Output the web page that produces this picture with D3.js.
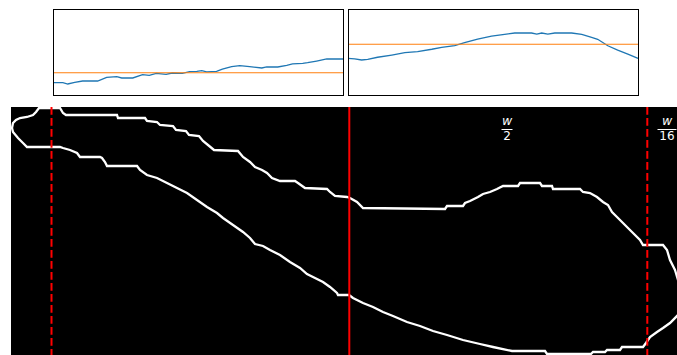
<!DOCTYPE html>
<html>
<head>
<meta charset="utf-8">
<script src="https://cdn.jsdelivr.net/npm/d3@7/dist/d3.min.js"></script>
<style>
  html, body { margin: 0; padding: 0; background: #fff; overflow: hidden; }
  svg { display: block; }
</style>
</head>
<body>
<svg id="fig" width="677" height="355"></svg>
<script>
// Profile along the left window (percent of panel height)
const leftPos = [0,3.4,5.1,7.5,10.2,15.4,18.5,22,23.7,27.5,30.9,33.2,35.6,39,41.1,44.6,47.1,49.6,51.3,53,56.4,58.4,61.6,64.4,67.8,72,73.7,77.5,80.6,82.6,86.1,87.8,90.9,94.4,100];
const leftProfile = [15.1,15.1,13.6,15.6,17.1,17.1,21.4,22.1,20.6,20.6,24.4,23.7,26,24.9,26.4,26,27.9,28.4,29.1,27.6,28.4,31,33.7,34.9,33.7,32.2,33.4,33.4,35.3,36.9,37.7,38.4,40.3,42.7,42.7];
const leftLevel = 26.7;

// Profile along the right window
const rightPos = [0,2.3,4.7,6.8,10.2,15.1,19.6,24,28.9,32.3,36.8,40.2,44.7,49.5,54,57.5,63.3,65.1,66.8,68.9,71.3,77.1,80.6,84,86.1,89.6,93,96.5,100];
const rightProfile = [43.5,42.7,41.5,42.3,44.7,47.3,50,51.2,54,56.3,58.1,61.6,65.9,69.4,71.4,72.9,72.9,71.7,72.9,71.7,72.9,72.9,71.4,67.9,65.6,58.1,53.1,48.4,43.5];
const rightLevel = 59.8;

// Closed outline of the mask, in image pixels [col, row]
const outline = [
  [1,21],[2,16],[5,13],[9,11],[16,10],[22,8],[25,5],[28,1],[49,1],[52,6],[55,8],
  [106,8],[107,11],[134,11],[136,14],[146,15],[149,18],[162,19],[165,23],[175,24],
  [178,28],[188,29],[192,34],[197,38],[203,43],[227,44],[232,50],[239,55],[244,60],
  [251,63],[256,66],[261,71],[269,74],[284,74],[287,76],[294,81],[316,82],[319,85],
  [324,89],[336,90],[339,91],[346,95],[352,101],[434,102],[436,99],[452,99],[454,96],
  [459,94],[467,90],[472,87],[479,85],[486,82],[492,79],[507,79],[509,76],[529,76],
  [531,79],[541,79],[542,82],[569,82],[572,85],[579,86],[586,90],[592,95],[597,98],
  [601,105],[606,110],[612,116],[621,125],[629,133],[632,138],[652,138],[656,143],
  [659,153],[664,163],[667,173],[672,190],[667,208],[659,216],[652,221],[646,225],
  [639,230],[635,236],[632,240],[611,240],[609,243],[596,243],[594,245],[582,245],
  [580,247],[536,247],[534,244],[501,244],[482,240],[469,237],[452,233],[436,228],
  [422,224],[409,219],[396,215],[382,209],[372,205],[362,200],[352,196],[342,191],
  [338,188],[327,188],[326,186],[319,180],[312,175],[304,171],[296,167],[289,161],
  [279,155],[269,148],[259,143],[252,139],[244,137],[239,131],[232,125],[222,118],
  [212,111],[206,106],[196,100],[186,93],[176,86],[166,81],[156,76],[146,71],[136,68],
  [129,63],[126,59],[96,59],[94,55],[91,51],[89,50],[69,50],[66,46],[59,43],[52,41],
  [49,40],[16,40],[12,36],[7,31],[2,25]
];

// Window boundaries (image columns) and their styles
const markerCols = [40.5, 338.3, 636.3];
const markerDashed = [true, false, true];

// Fraction labels placed along the top of the image
const labelCols = [496, 656];
const labelDenoms = ["2", "16"];

const svg = d3.select("#fig");

// ---------- image panel ----------
const xImg = d3.scaleLinear().domain([0, 700]).range([11, 711]);
const yImg = d3.scaleLinear().domain([0, 260]).range([107, 367]);

const imgG = svg.append("g");
imgG.append("rect")
  .attr("x", xImg(0)).attr("y", yImg(0))
  .attr("width", xImg(700) - xImg(0)).attr("height", yImg(260) - yImg(0))
  .attr("fill", "#000");

imgG.append("path")
  .datum(outline)
  .attr("d", d3.line().x(d => xImg(d[0])).y(d => yImg(d[1])).curve(d3.curveLinearClosed))
  .attr("fill", "none")
  .attr("stroke", "#fff")
  .attr("stroke-width", 2.3)
  .attr("stroke-linejoin", "miter");

imgG.selectAll("line.marker")
  .data(markerCols)
  .join("line")
  .attr("class", "marker")
  .attr("x1", d => xImg(d)).attr("x2", d => xImg(d))
  .attr("y1", yImg(0)).attr("y2", yImg(260))
  .attr("stroke", "#ff0000")
  .attr("stroke-width", 2)
  .attr("stroke-dasharray", (d, i) => markerDashed[i] ? "7.7,3.3" : null);

const lab = imgG.selectAll("g.frac")
  .data(labelCols)
  .join("g")
  .attr("class", "frac")
  .attr("transform", d => `translate(${xImg(d)},${yImg(22.5)})`);

lab.append("text")
  .attr("x", 0).attr("y", -4.6)
  .attr("text-anchor", "middle")
  .attr("font-family", "DejaVu Sans")
  .attr("font-style", "italic")
  .attr("font-size", 12.5)
  .attr("fill", "#fff")
  .text("w");
lab.append("line")
  .attr("x1", (d, i) => -(labelDenoms[i].length * 8) / 2 - 1.5)
  .attr("x2", (d, i) => (labelDenoms[i].length * 8) / 2 + 1.5)
  .attr("y1", 0).attr("y2", 0)
  .attr("stroke", "#fff").attr("stroke-width", 1);
lab.append("text")
  .attr("x", 0).attr("y", 10.6)
  .attr("text-anchor", "middle")
  .attr("font-family", "DejaVu Sans")
  .attr("font-size", 12)
  .attr("fill", "#fff")
  .text((d, i) => labelDenoms[i]);

// ---------- profile panels ----------
function profilePanel(x0, x1, pos, vals, level) {
  const top = 10, bottom = 96;
  const x = d3.scaleLinear().domain([0, 100]).range([x0, x1]);
  const y = d3.scaleLinear().domain([0, 100]).range([bottom - 0.3, top - 0.3]);
  const g = svg.append("g");
  g.append("rect")
    .attr("x", x0).attr("y", top).attr("width", x1 - x0).attr("height", bottom - top)
    .attr("fill", "#fff");
  g.append("path")
    .datum(d3.zip(pos, vals))
    .attr("d", d3.line().x(d => x(d[0])).y(d => y(d[1])))
    .attr("fill", "none")
    .attr("stroke", "#1f77b4")
    .attr("stroke-width", 1.3);
  g.append("line")
    .attr("x1", x(0)).attr("x2", x(100))
    .attr("y1", y(level)).attr("y2", y(level))
    .attr("stroke", "#ff7f0e")
    .attr("stroke-width", 1.2);
  g.append("rect")
    .attr("x", x0 + 0.5).attr("y", top - 0.5).attr("width", x1 - x0).attr("height", bottom - top)
    .attr("fill", "none")
    .attr("stroke", "#000")
    .attr("stroke-width", 1);
}

profilePanel(53, 343, leftPos, leftProfile, leftLevel);
profilePanel(348, 638, rightPos, rightProfile, rightLevel);
</script>
</body>
</html>
